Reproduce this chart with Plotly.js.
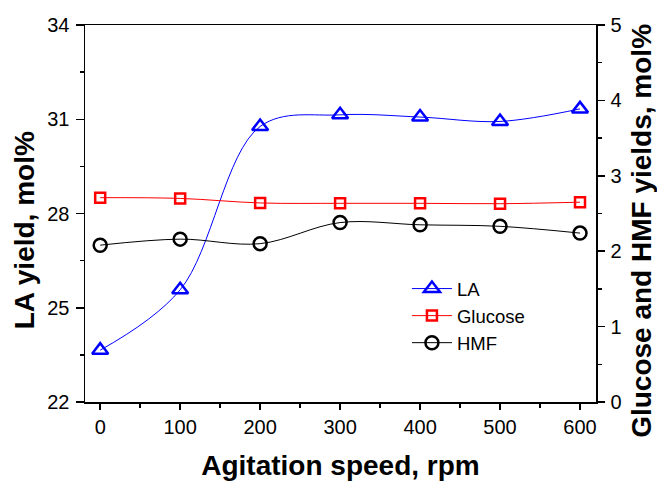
<!DOCTYPE html>
<html>
<head>
<meta charset="utf-8">
<script src="https://cdn.plot.ly/plotly-3.0.1.min.js"></script>
<style>
html,body{margin:0;padding:0;background:#fff;}
#chart{width:657px;height:481px;}
</style>
</head>
<body>
<div id="chart"></div>
<script>
// Agitation speed, rpm
const speed = [0, 100, 200, 300, 400, 500, 600];
// LA yield, mol% (left axis)
const laYield = [23.65, 25.57, 30.77, 31.14, 31.07, 30.93, 31.33];
// Glucose yield, mol% (right axis)
const glucoseYield = [2.71, 2.70, 2.64, 2.635, 2.635, 2.63, 2.65];
// HMF yield, mol% (right axis)
const hmfYield = [2.08, 2.16, 2.10, 2.38, 2.35, 2.33, 2.24];

const xTicks = [0, 100, 200, 300, 400, 500, 600];
const yLeftTicks = [22, 25, 28, 31, 34];
const yRightTicks = [0, 1, 2, 3, 4, 5];

const FONT = 'Liberation Sans, Arial, sans-serif';

const traces = [
  {
    x: speed, y: laYield, name: 'LA', type: 'scatter', mode: 'lines+markers',
    yaxis: 'y',
    line: {color: '#0000ff', width: 1, shape: 'spline', smoothing: 1},
    marker: {symbol: 'triangle-up-open', size: 14, color: '#0000ff', line: {width: 2.5, color: '#0000ff'}}
  },
  {
    x: speed, y: glucoseYield, name: 'Glucose', type: 'scatter', mode: 'lines+markers',
    yaxis: 'y2',
    line: {color: '#ff0000', width: 1, shape: 'spline', smoothing: 1},
    marker: {symbol: 'square-open', size: 10, color: '#ff0000', line: {width: 2.5, color: '#ff0000'}}
  },
  {
    x: speed, y: hmfYield, name: 'HMF', type: 'scatter', mode: 'lines+markers',
    yaxis: 'y2',
    line: {color: '#000000', width: 1, shape: 'spline', smoothing: 1},
    marker: {symbol: 'circle-open', size: 13, color: '#000000', line: {width: 2.5, color: '#000000'}}
  }
];

const layout = {
  width: 657, height: 481,
  margin: {l: 85, r: 61, t: 25, b: 79, pad: 0},
  paper_bgcolor: '#ffffff', plot_bgcolor: '#ffffff',
  font: {family: FONT, size: 20, color: '#000'},
  showlegend: true,
  legend: {
    x: 0.63, y: 0.228, xanchor: 'left', yanchor: 'middle',
    bgcolor: 'rgba(0,0,0,0)', borderwidth: 0,
    font: {family: FONT, size: 18.5, color: '#000'},
    itemwidth: 40, tracegroupgap: 0
  },
  xaxis: {
    range: [-19, 620],
    tickmode: 'array', tickvals: xTicks, ticktext: xTicks.map(String),
    ticks: 'outside', ticklen: 6, tickwidth: 1.5, tickcolor: '#000',
    minor: {dtick: 50, tick0: 0, ticks: 'outside', ticklen: 4, tickwidth: 1.5, tickcolor: '#000'},
    showline: true, linewidth: 1.5, linecolor: '#000', mirror: true,
    showgrid: false, zeroline: false,
    tickfont: {family: FONT, size: 20, color: '#000'},
    title: {text: '<b>Agitation speed, rpm</b>', font: {family: FONT, size: 28, color: '#000'}, standoff: 19}
  },
  yaxis: {
    range: [22, 34],
    tickmode: 'array', tickvals: yLeftTicks, ticktext: yLeftTicks.map(String),
    ticks: 'outside', ticklen: 8, tickwidth: 1.5, tickcolor: '#000',
    minor: {dtick: 1.5, tick0: 22, ticks: 'outside', ticklen: 4, tickwidth: 1.5, tickcolor: '#000'},
    showline: true, linewidth: 1.5, linecolor: '#000',
    showgrid: false, zeroline: false,
    tickfont: {family: FONT, size: 20, color: '#000'},
    ticklabelstandoff: 2
  },
  yaxis2: {
    range: [0, 5], overlaying: 'y', side: 'right',
    tickmode: 'array', tickvals: yRightTicks, ticktext: yRightTicks.map(String),
    ticks: 'outside', ticklen: 7, tickwidth: 1.5, tickcolor: '#000',
    minor: {dtick: 0.5, tick0: 0, ticks: 'outside', ticklen: 4, tickwidth: 1.5, tickcolor: '#000'},
    showline: true, linewidth: 1.5, linecolor: '#000',
    showgrid: false, zeroline: false,
    tickfont: {family: FONT, size: 20, color: '#000'},
    ticklabelstandoff: 2
  },
  annotations: [
    {
      text: '<b>LA yield, mol%</b>', xref: 'paper', yref: 'paper',
      x: -0.119, y: 0.456, xanchor: 'center', yanchor: 'middle',
      textangle: -90, showarrow: false,
      font: {family: FONT, size: 28, color: '#000'}
    },
    {
      text: '<b>Glucose and HMF yields, mol%</b>', xref: 'paper', yref: 'paper',
      x: 1.09, y: 0.454, xanchor: 'center', yanchor: 'middle',
      textangle: -90, showarrow: false,
      font: {family: FONT, size: 28, color: '#000'}
    }
  ]
};

Plotly.newPlot('chart', traces, layout, {displayModeBar: false, staticPlot: true});
</script>
</body>
</html>
